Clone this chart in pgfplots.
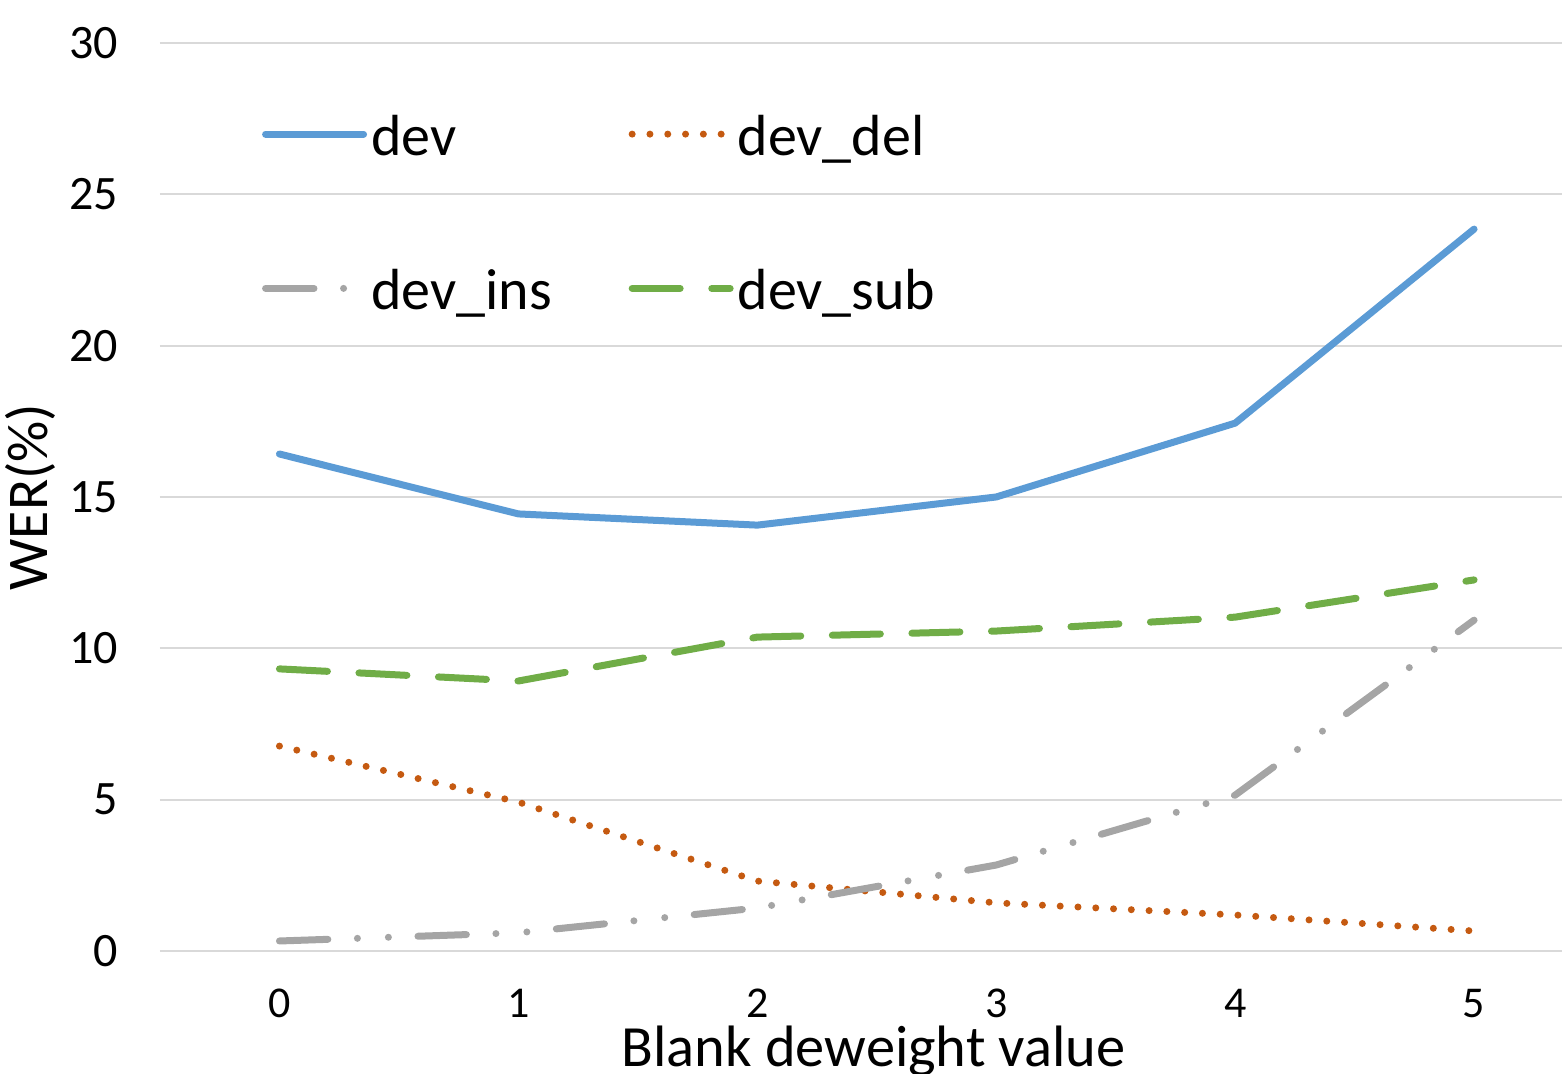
\documentclass[border=0pt]{standalone}
\usepackage{fontspec}
\setmainfont{Carlito}
\usepackage{pgfplots}
\pgfplotsset{compat=1.18}
\definecolor{cblue}{HTML}{5B9BD5}
\definecolor{corange}{HTML}{C55A11}
\definecolor{cgray}{HTML}{A5A5A5}
\definecolor{cgreen}{HTML}{70AD47}
\definecolor{gridgray}{HTML}{D9D9D9}
\begin{document}
\begin{tikzpicture}
\begin{axis}[
  scale only axis, width=350.5pt, height=227pt,
  xmin=-0.5, xmax=5.368, ymin=0, ymax=30,
  axis line style={draw=none},
  tick style={draw=none},
  major tick length=0pt,
  ymajorgrids,
  grid style={color=gridgray, line width=0.55pt},
  xtick={0,1,2,3,4,5}, ytick={0,5,10,15,20,25,30},
  /pgf/number format/assume math mode=true,
  yticklabel style={font=\fontsize{12}{14}\selectfont, xshift=-7pt},
  xticklabel style={font=\fontsize{11}{13}\selectfont, yshift=-6pt},
  xlabel={Blank deweight value}, ylabel={WER(\%)},
  xlabel style={at={(axis description cs:0.509,-0.1267)}, anchor=base, font=\fontsize{14.6}{17}\selectfont},
  ylabel style={at={(axis description cs:-0.0927,0.5)}, anchor=center, font=\fontsize{14.4}{17}\selectfont},
  every axis plot/.append style={line width=1.75pt, line cap=round, line join=round},
  legend columns=2,
  legend cell align=left,
  legend image code/.code={\draw[#1] (0pt,1pt) -- (24.5pt,1pt);},
  legend style={draw=none, fill=none, inner sep=0pt, outer sep=0pt,
    at={(axis description cs:0.0728,0.9207)}, anchor=north west,
    row sep=27pt,
    font=\fontsize{14.5}{17}\selectfont,
    nodes={inner sep=0pt},
    /tikz/every odd column/.append style={column sep=1pt},
    /tikz/every even column/.append style={column sep=19.25pt}},
]
\addplot[cblue] coordinates {(0,16.42) (1,14.44) (2,14.07) (3,15.0) (4,17.44) (5,23.85)};
\addlegendentry{dev}
\addplot[corange, dash pattern=on 0pt off 4.45pt] coordinates {(0,6.77) (1,4.92) (2,2.31) (3,1.59) (4,1.19) (5,0.66)};
\addlegendentry{dev\_del}
\addplot[cgray, dash pattern=on 12.1pt off 7.4pt on 0pt off 7.75pt on 0pt off 7.4pt] coordinates {(0,0.33) (1,0.6) (2,1.42) (3,2.84) (4,5.15) (5,10.93)};
\addlegendentry{dev\_ins}
\addplot[cgreen, dash pattern=on 12pt off 7.9pt] coordinates {(0,9.32) (1,8.92) (2,10.37) (3,10.57) (4,11.03) (5,12.26)};
\addlegendentry{dev\_sub}
\end{axis}
\pgfresetboundingbox
\path[use as bounding box] ([xshift=-40pt,yshift=-30.75pt]current axis.south west) rectangle ([yshift=10.75pt]current axis.north east);
\end{tikzpicture}
\end{document}
